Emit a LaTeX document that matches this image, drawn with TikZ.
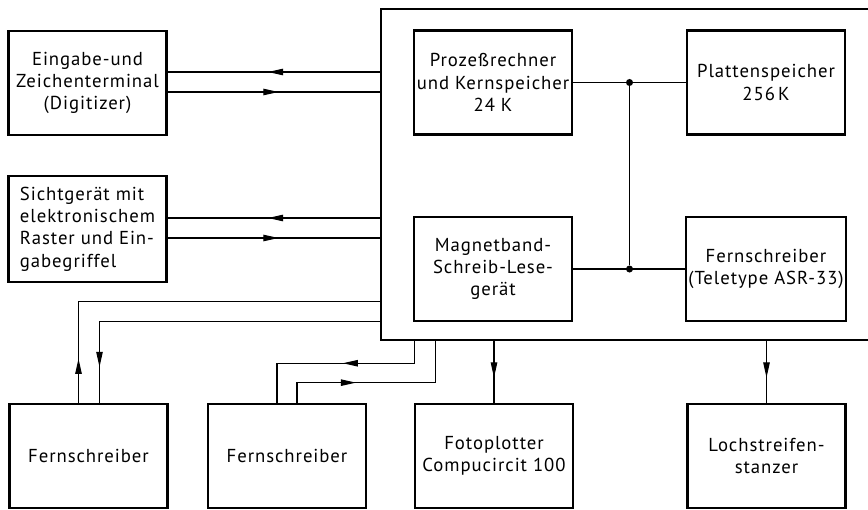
\documentclass[tikz,border=0pt]{standalone}
\usepackage{fontspec}
\setmainfont{PT Sans}[LetterSpace=5]
\usetikzlibrary{positioning,arrows.meta,calc,decorations.markings}
\tikzset{
  blk/.style={draw,line width=2.3pt,minimum width=4.74cm,minimum height=3.12cm,
              inner xsep=2pt,align=center,font=\fontsize{16}{19}\selectfont},
  con/.style={line width=0.9pt},
  midtip/.style={postaction={decorate,decoration={markings,
                 mark=at position #1 with {\arrow{Triangle[length=13pt,width=5.5pt]}}}}},
  junc/.style={circle,fill,inner sep=0pt,minimum size=6pt},
}

\begin{document}
\begin{tikzpicture}[x=0.03cm,y=-0.03cm]
        \useasboundingbox (0,0) rectangle (868,510);
        \node[minimum width=14.61cm,minimum height=9.93cm,inner sep=0pt] (sys) at (624.5,174.5) {};
        \draw[line width=2pt] (sys.north east) -- (sys.north west) -- (sys.south west) -- (sys.south east);

        \node[blk] (ein) at (87.5,83) {Eingabe-und\\Zeichenterminal\\(Digitizer)};
        \node[blk,align=left,minimum height=3.18cm] (sicht) at (87.5,229)
          {Sichtgerät mit\\elektronischem\\Raster und Ein-\\gabegriffel};
        \node[blk] (rz) at (493,82.5) {Prozeßrechner\\und Kernspeicher\\24 K};
        \node[blk] (plat) at (766,82.5) {Plattenspeicher\\256\,K};
        \node[blk] (mag) at (493,269) {Magnetband-\\Schreib-Lese-\\gerät};
        \node[blk] (tty) at (766,269) {Fernschreiber\\(Teletype ASR-33)};
        \node[blk] (fs1) at (88.5,456) {Fernschreiber};
        \node[blk] (fs2) at (287,456) {Fernschreiber};
        \node[blk] (foto) at (494,456) {Fotoplotter\\Compucircit 100};
        \node[blk] (loch) at (766.5,456) {Lochstreifen-\\stanzer};

        \node[junc] (j1) at ($(rz.east)!0.5!(plat.west)$) {};
        \node[junc] (j2) at (j1 |- mag.east) {};
        \draw[con] (rz) -- (plat);
        \draw[con] (mag) -- (tty);
        \draw[con] (j1) -- (j2);

        \coordinate (e1) at ($(ein.east)+(0,-11)$);
        \coordinate (e2) at ($(ein.east)+(0,9)$);
        \coordinate (s1) at ($(sicht.east)+(0,-11)$);
        \coordinate (s2) at ($(sicht.east)+(0,9)$);
        \draw[con,midtip=0.53] (e1 -| sys.west) -- (e1);
        \draw[con,midtip=0.52] (e2) -- (e2 -| sys.west);
        \draw[con,midtip=0.53] (s1 -| sys.west) -- (s1);
        \draw[con,midtip=0.52] (s2) -- (s2 -| sys.west);

        \draw[con,midtip=1.32cm] ($(fs1.north)+(-10,0)$) |- ($(sys.south west)+(0,-39)$);
        \draw[con,midtip=9.81cm] ($(sys.south west)+(0,-19)$) -| ($(fs1.north)+(11,0)$);
        \draw[con,midtip=2.85cm] ($(sys.south west)+(34,0)$) -- ++(0,23) -| ($(fs2.north)+(-10,0)$);
        \draw[con,midtip=2.37cm] ($(fs2.north)+(10,0)$) -- ++(0,-20) -| ($(sys.south west)+(55,0)$);
        \draw[con,midtip=0.6] (foto.north |- sys.south) -- (foto.north);
        \draw[con,midtip=0.6] (loch.north |- sys.south) -- (loch.north);
\end{tikzpicture}
\end{document}
